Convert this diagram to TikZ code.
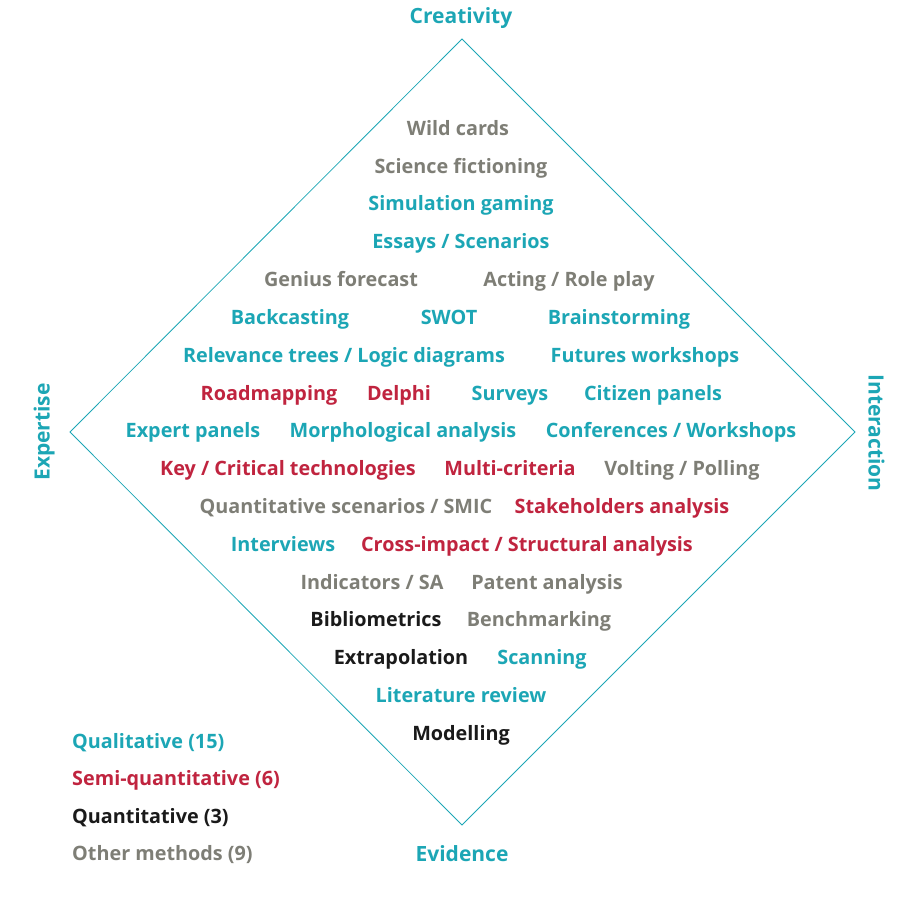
\documentclass[tikz,border=0pt]{standalone}
\usepackage{fontspec}
\setmainfont{Open Sans}
\usepackage{xcolor}
\definecolor{teal}{HTML}{1CA6B5}
\definecolor{crimson}{HTML}{C0243F}
\definecolor{stone}{HTML}{7E7E76}
\definecolor{ink}{HTML}{1A1A1A}

\begin{document}
\begin{tikzpicture}[x=1pt, y=-1pt,
    item/.style={inner sep=0pt, text height=14pt, text depth=0pt, font=\fontsize{19.8}{22}\selectfont\bfseries},
    qual/.style={item, text=teal},
    semi/.style={item, text=crimson},
    quant/.style={item, text=ink},
    other/.style={item, text=stone},
    axis/.style={inner sep=0pt, text height=15pt, text depth=0pt, text=teal, font=\fontsize{21}{24}\selectfont\bfseries},
    legend/.style={anchor=west}]
    \useasboundingbox (0,0) rectangle (911,911);
    % diamond
    \coordinate (top) at (462,39);
    \coordinate (right) at (855,432);
    \coordinate (bottom) at (462,825);
    \coordinate (left) at (70,432);
    \draw[teal, line width=0.8pt] (top) -- (right) -- (bottom) -- (left) -- cycle;
    % corner labels
    \node[axis] (creativity) at (461,16) {Creativity};
    \node[axis] (evidence) at (462,854) {Evidence};
    \node[axis, rotate=90] (expertise) at (42,432) {Expertise};
    \node[axis, rotate=-90] (interaction) at (876,433) {Interaction};
    % methods
    \node[other] (wild) at (458,128) {Wild cards};
    \node[other] (scifi) at (461,166) {Science fictioning};
    \node[qual] (simgame) at (461,203) {Simulation gaming};
    \node[qual] (essays) at (461,241) {Essays / Scenarios};
    \node[other] (genius) at (341,279) {Genius forecast};
    \node[other] (acting) at (569,279) {Acting / Role play};
    \node[qual] (backcast) at (290,317) {Backcasting};
    \node[qual] (swot) at (449,317) {SWOT};
    \node[qual] (brainstorm) at (619,317) {Brainstorming};
    \node[qual] (relevance) at (344,355) {Relevance trees / Logic diagrams};
    \node[qual] (futures) at (645,355) {Futures workshops};
    \node[semi] (roadmap) at (269,393) {Roadmapping};
    \node[semi] (delphi) at (399,393) {Delphi};
    \node[qual] (surveys) at (510,393) {Surveys};
    \node[qual] (citizen) at (653,393) {Citizen panels};
    \node[qual] (experts) at (193,430) {Expert panels};
    \node[qual] (morph) at (403,430) {Morphological analysis};
    \node[qual] (confs) at (671,430) {Conferences / Workshops};
    \node[semi] (keytech) at (288,468) {Key / Critical technologies};
    \node[semi] (multi) at (510,468) {Multi-criteria};
    \node[other] (voting) at (682,468) {Volting / Polling};
    \node[other] (smic) at (346,506) {Quantitative scenarios / SMIC};
    \node[semi] (stake) at (622,506) {Stakeholders analysis};
    \node[qual] (interviews) at (283,544) {Interviews};
    \node[semi] (crossimp) at (527,544) {Cross-impact / Structural analysis};
    \node[other] (indic) at (372,582) {Indicators / SA};
    \node[other] (patent) at (547,582) {Patent analysis};
    \node[quant] (biblio) at (376,619) {Bibliometrics};
    \node[other] (bench) at (539,619) {Benchmarking};
    \node[quant] (extrap) at (401,657) {Extrapolation};
    \node[qual] (scan) at (542,657) {Scanning};
    \node[qual] (litrev) at (461,695) {Literature review};
    \node[quant] (model) at (461,733) {Modelling};
    % legend
    \node[qual, legend] (lqual) at (72,741) {Qualitative (15)};
    \node[semi, legend] (lsemi) at (72,778) {Semi-quantitative (6)};
    \node[quant, legend] (lquant) at (72,816) {Quantitative (3)};
    \node[other, legend] (lother) at (72,853) {Other methods (9)};
\end{tikzpicture}
\end{document}
